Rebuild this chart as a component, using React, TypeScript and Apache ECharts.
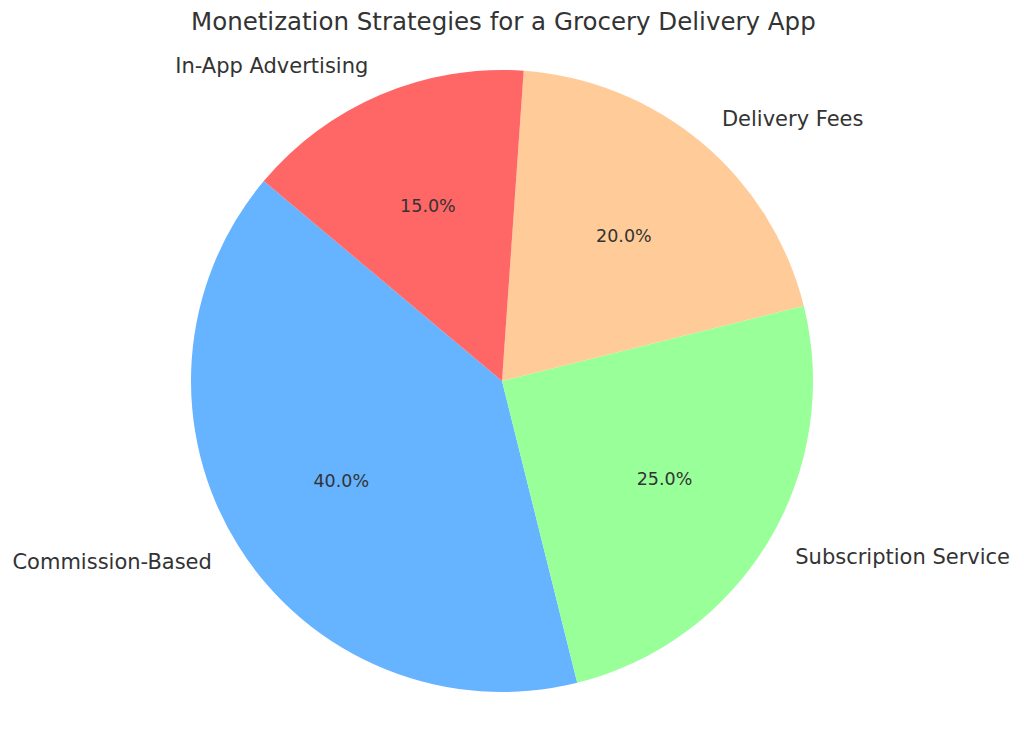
import React, { useEffect, useRef } from "react";
import * as echarts from "echarts";

const categories = [
  "Commission-Based",
  "Subscription Service",
  "Delivery Fees",
  "In-App Advertising",
];
const shares = [40, 25, 20, 15];
const colors = ["#66b3ff", "#99ff99", "#ffcc99", "#ff6666"];

const FONT = "DejaVu Sans";
const TEXT = "#333333";
const R = 311;

const App: React.FC = () => {
  const chartRef = useRef<HTMLDivElement>(null);

  useEffect(() => {
    if (!chartRef.current) return;
    const chart = echarts.init(chartRef.current, undefined, { renderer: "svg" });

    const pieData = categories.map((name, i) => ({
      name,
      value: shares[i],
      itemStyle: { color: colors[i] },
    }));

    const option: echarts.EChartsOption = {
      animation: false,
      backgroundColor: "#ffffff",
      title: {
        text: "Monetization Strategies for a Grocery Delivery App",
        left: 191,
        top: 9,
        padding: 0,
        textStyle: {
          fontFamily: FONT,
          fontSize: 24.5,
          fontWeight: "normal",
          color: TEXT,
        },
      },
      series: [
        {
          type: "pie",
          center: [502, 381],
          radius: [0, R],
          startAngle: 140,
          clockwise: false,
          avoidLabelOverlap: false,
          silent: true,
          data: pieData,
          label: {
            show: true,
            position: "outside",
            formatter: "{b}",
            fontFamily: FONT,
            fontSize: 21,
            color: TEXT,
            distanceToLabelLine: 0,
          },
          labelLine: { show: false, length: R * 0.1, length2: 0 },
        },
        {
          // invisible ring so the inside labels sit at 0.6 of the radius
          type: "pie",
          center: [502, 381],
          radius: [R * 0.2, R],
          startAngle: 140,
          clockwise: false,
          avoidLabelOverlap: false,
          silent: true,
          data: categories.map((name, i) => ({
            name,
            value: shares[i],
            itemStyle: { color: "rgba(0,0,0,0)" },
          })),
          label: {
            show: true,
            position: "inside",
            formatter: (p: any) => `${p.percent.toFixed(1)}%`,
            fontFamily: FONT,
            fontSize: 17.5,
            color: TEXT,
          },
          labelLine: { show: false },
        },
      ],
    };

    chart.setOption(option);
    return () => {
      chart.dispose();
    };
  }, []);

  return (
    <div
      ref={chartRef}
      style={{ position: "absolute", left: 0, top: 0, width: 1024, height: 734 }}
    />
  );
};

export default App;
